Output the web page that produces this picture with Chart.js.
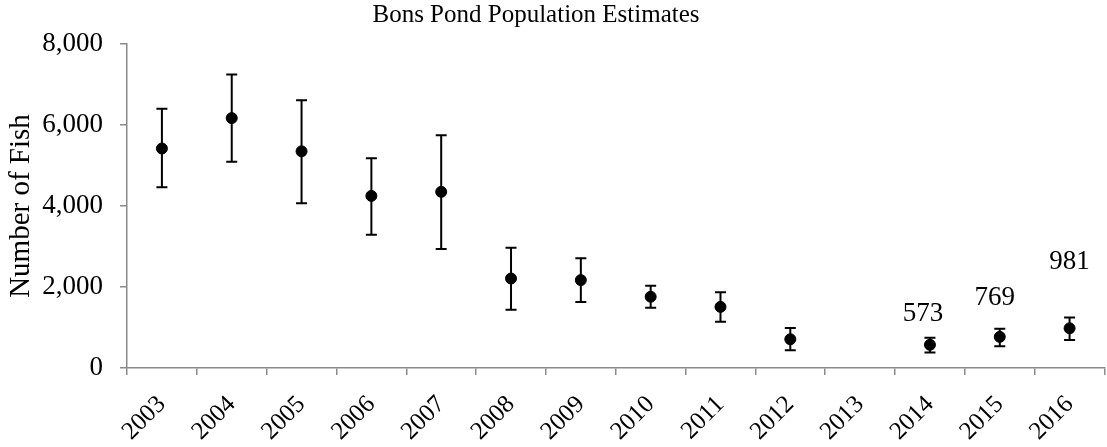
<!DOCTYPE html>
<html>
<head>
<meta charset="utf-8">
<title>Bons Pond Population Estimates</title>
<script src="https://cdn.jsdelivr.net/npm/chart.js@4/dist/chart.umd.min.js"></script>
<style>
  html, body { margin: 0; padding: 0; background: #fff; overflow: hidden; }
  #wrap { width: 1111px; height: 447px; position: relative; }
</style>
</head>
<body>
<div id="wrap"><canvas id="chart"></canvas></div>
<script>
// data
const years = ['2003', '2004', '2005', '2006', '2007', '2008', '2009',
               '2010', '2011', '2012', '2013', '2014', '2015', '2016'];
const estimates = [5420, 6170, 5350, 4250, 4350, 2210, 2170, 1760, 1510, 710, null, 573, 769, 981];
const lower = [4460, 5090, 4070, 3290, 2940, 1440, 1630, 1490, 1140, 440, null, 380, 540, 690];
const upper = [6400, 7250, 6610, 5180, 5750, 2970, 2710, 2030, 1870, 990, null, 750, 970, 1250];
const labelledYears = ['2014', '2015', '2016'];
const yTicks = [0, 2000, 4000, 6000, 8000];

const serif = '"Liberation Serif", "Times New Roman", serif';
const axisGray = '#8a8a8a';

// error bars, drawn under the markers
const errorBars = {
    id: 'errorBars',
    beforeDatasetsDraw(chart) {
        const ctx = chart.ctx;
        const y = chart.scales.y;
        const meta = chart.getDatasetMeta(0);
        ctx.save();
        ctx.strokeStyle = '#000';
        ctx.lineWidth = 2;
        meta.data.forEach((pt, i) => {
            if (estimates[i] == null) return;
            const x = pt.x;
            const yl = y.getPixelForValue(lower[i]);
            const yh = y.getPixelForValue(upper[i]);
            ctx.beginPath();
            ctx.moveTo(x, yl); ctx.lineTo(x, yh);
            ctx.moveTo(x - 5.5, yl); ctx.lineTo(x + 5.5, yl);
            ctx.moveTo(x - 5.5, yh); ctx.lineTo(x + 5.5, yh);
            ctx.stroke();
        });
        ctx.restore();
    }
};

// value labels above the last three points
const valueLabels = {
    id: 'valueLabels',
    afterDatasetsDraw(chart, args, opts) {
        const ctx = chart.ctx;
        const meta = chart.getDatasetMeta(0);
        ctx.save();
        ctx.font = opts.font;
        ctx.fillStyle = '#000';
        ctx.textAlign = 'center';
        ctx.textBaseline = 'middle';
        labelledYears.forEach((yr, k) => {
            const i = years.indexOf(yr);
            const pt = meta.data[i];
            const off = opts.offsets[k];
            ctx.fillText(estimates[i].toString(), pt.x + off[0], pt.y - off[1]);
        });
        ctx.restore();
    }
};

// title drawn by hand, it sits left of centre in the original
const chartTitle = {
    id: 'chartTitle',
    afterDraw(chart, args, opts) {
        const ctx = chart.ctx;
        ctx.save();
        ctx.font = opts.font;
        ctx.fillStyle = '#000';
        ctx.textAlign = 'center';
        ctx.textBaseline = 'middle';
        ctx.fillText(opts.text, opts.x, opts.y);
        ctx.restore();
    }
};

new Chart(document.getElementById('chart'), {
    type: 'line',
    data: {
        labels: years,
        datasets: [{
            data: estimates,
            showLine: false,
            pointRadius: 5.5,
            pointHoverRadius: 5.5,
            pointBackgroundColor: '#000',
            pointBorderColor: '#000',
            borderColor: '#000'
        }]
    },
    options: {
        responsive: true,
        maintainAspectRatio: false,
        animation: false,
        layout: { padding: { top: 44, right: 0, left: 0, bottom: 0 } },
        plugins: {
            legend: { display: false },
            tooltip: { enabled: false },
            chartTitle: {
                text: 'Bons Pond Population Estimates',
                font: '25px ' + serif,
                x: 536,
                y: 15
            },
            valueLabels: {
                font: '27px ' + serif,
                offsets: [[-7, 31], [-5, 39], [0, 66]]
            }
        },
        scales: {
            x: {
                offset: true,
                grid: {
                    offset: true,
                    drawOnChartArea: false,
                    drawTicks: true,
                    tickLength: 7,
                    color: axisGray,
                    lineWidth: 1.5
                },
                border: { color: axisGray, width: 1.5 },
                ticks: {
                    color: '#000',
                    font: { family: serif, size: 25 },
                    minRotation: 45,
                    maxRotation: 45,
                    padding: 15,
                    autoSkip: false
                },
                afterFit(scale) {
                    scale.height = 79;
                    scale.paddingLeft = 0;
                    scale.paddingRight = 0;
                }
            },
            y: {
                min: 0,
                max: 8000,
                afterBuildTicks(scale) {
                    scale.ticks = yTicks.map(v => ({ value: v }));
                },
                grid: {
                    drawOnChartArea: false,
                    drawTicks: true,
                    tickLength: 7,
                    color: axisGray,
                    lineWidth: 1.5
                },
                border: { color: axisGray, width: 1.5 },
                ticks: {
                    color: '#000',
                    font: { family: serif, size: 27 },
                    padding: 17,
                    callback: v => v.toLocaleString('en-US')
                },
                title: {
                    display: true,
                    text: 'Number of Fish',
                    color: '#000',
                    font: { family: serif, size: 29 },
                    padding: { top: 4, bottom: 0 }
                },
                afterFit(scale) {
                    scale.width = 127;
                }
            }
        }
    },
    plugins: [errorBars, valueLabels, chartTitle]
});
</script>
</body>
</html>
